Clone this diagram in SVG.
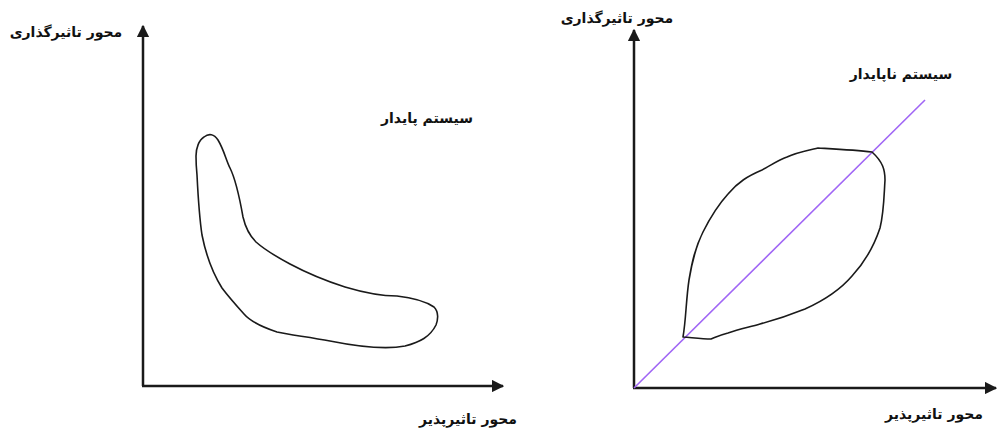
<svg xmlns="http://www.w3.org/2000/svg" width="1000" height="434" viewBox="0 0 1000 434">
<style>
.axis{stroke:#1a1a1a;stroke-width:2.5;fill:none}
.shape{stroke:#1a1a1a;stroke-width:1.6;fill:none;stroke-linejoin:round}
.lbl{font-family:"DejaVu Serif","DejaVu Sans","Noto Sans",serif;font-weight:bold;font-size:14px;fill:#111;text-anchor:middle;direction:rtl}
</style>
<defs>
<marker id="ah" viewBox="0 0 10 10" refX="9" refY="5" markerWidth="5" markerHeight="5" markerUnits="strokeWidth" orient="auto">
<path d="M0,0 L10,5 L0,10 Z" fill="#1a1a1a"/>
</marker>
</defs>
<rect width="1000" height="434" fill="#fff"/>
<g id="connectors">
<line class="axis" x1="143" y1="386" x2="143" y2="26" marker-end="url(#ah)"/>
<line class="axis" x1="142" y1="386" x2="503" y2="386" marker-end="url(#ah)"/>
<line class="axis" x1="634" y1="388" x2="634" y2="30" marker-end="url(#ah)"/>
<line class="axis" x1="633" y1="388" x2="996" y2="388" marker-end="url(#ah)"/>
<line x1="634" y1="388" x2="925" y2="100" stroke="#a066f5" stroke-width="1.6"/>
</g>
<g id="stable-shape">
<path class="shape" d="M196,156 C196,148 199,140 204,137 C209,133 214,134 218,140 C224,150 226,160 230,168 C236,180 240,200 243,217 C246,230 250,236 256,242 C265,250 275,256 290,264 C305,272 320,279 345,287 C365,293 380,296 397,296 C415,298 428,303 434,307 C439,312 438,320 436,325 C430,337 420,342 405,346 C385,350 360,347 330,341 C310,337 290,335 277,332 C262,327 250,321 244,314 C235,304 228,296 222,288 C212,272 206,255 202,235 C199,215 198,195 197,175 C196,165 196,160 196,156 Z"/>
</g>
<g id="unstable-shape">
<path class="shape" d="M683,337 C695,338 703,339 711,339 C716,337 720,335 728,333 C740,329 750,327 760,324 C775,320 790,315 805,309 C825,300 840,290 852,276 C865,262 874,246 880,228 C884,212 884,195 885,180 C885,170 883,162 872,152 C855,150 835,149 818,148 C805,151 795,153 787,157 C778,160 770,166 762,170 C748,176 738,182 728,194 C718,205 710,218 703,232 C695,248 692,262 689,280 C686,300 686,320 683,337 Z"/>
</g>
<g id="labels">
<text class="lbl" x="66" y="37">محور تاثیرگذاری</text>
<text class="lbl" x="427" y="123">سیستم پایدار</text>
<text class="lbl" x="468" y="424">محور تاثیرپذیر</text>
<text class="lbl" x="617" y="23">محور تاثیرگذاری</text>
<text class="lbl" x="901" y="79">سیستم ناپایدار</text>
<text class="lbl" x="934" y="419">محور تاثیرپذیر</text>
</g>
</svg>
